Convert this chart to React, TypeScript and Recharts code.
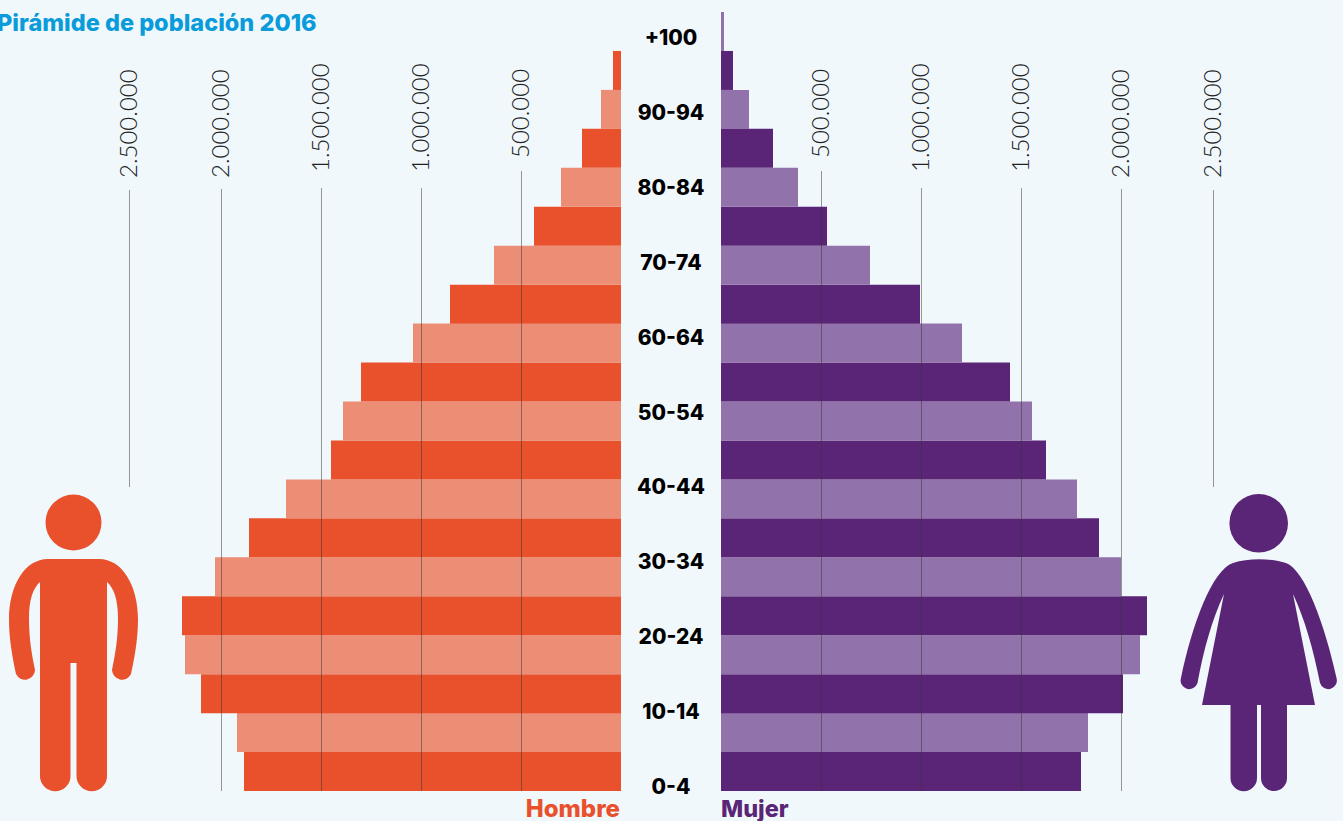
import { BarChart, Bar, Cell, XAxis, YAxis, ReferenceLine } from "recharts";

// age groups from the bottom of the pyramid up
const ageGroups = [
  "0-4", "5-9", "10-14", "15-19", "20-24", "25-29", "30-34", "35-39", "40-44", "45-49",
  "50-54", "55-59", "60-64", "65-69", "70-74", "75-79", "80-84", "85-89", "90-94", "95-99", "+100",
];

const hombres = [
  1885000, 1920000, 2100000, 2180000, 2195000, 2030000, 1860000, 1675000, 1450000, 1390000,
  1300000, 1040000, 855000, 635000, 435000, 300000, 195000, 100000, 40000, 0,
];

const mujeres = [
  1800000, 1835000, 2010000, 2095000, 2130000, 2000000, 1890000, 1780000, 1625000, 1555000,
  1445000, 1205000, 995000, 745000, 530000, 385000, 260000, 140000, 60000, 15000,
];

// the outer rule sits a little inside its nominal 2.500.000 position in the picture
const tickValues = [500000, 1000000, 1500000, 2000000, 2460000];
const tickLabels = ["500.000", "1.000.000", "1.500.000", "2.000.000", "2.500.000"];

const ORANGE = ["#e9502c", "#ec8d75"];
const PURPLE = ["#5b2577", "#9172aa"];
const BG = "#f0f8fc";
const DOMAIN_MAX = 2500000;
const HEAVY = "Inter";

const labelBottom = [158, 172, 172, 178, 178];
const ruleTop = [171, 188, 188, 189, 190];
const ruleBottom = [791, 791, 791, 791, 487];

function rows(values: number[]) {
  return values.map((value, i) => ({ age: ageGroups[i], value }));
}

function ScaleTick({ x, payload }: any) {
  const i = tickValues.indexOf(payload.value);
  const tx = x - 2;
  return (
    <text
      x={tx}
      y={labelBottom[i]}
      transform={`rotate(-90 ${tx} ${labelBottom[i]})`}
      dominantBaseline="central"
      textAnchor="start"
      fontFamily="Lato"
      fontWeight={300}
      fontSize={24}
      fill="#222"
    >
      {tickLabels[i]}
    </text>
  );
}

function ruleShape(i: number) {
  return (props: any) => {
    const x = Math.floor(props.x1) + 0.5;
    return (
      <line x1={x} x2={x} y1={ruleTop[i]} y2={ruleBottom[i]} stroke="#333" strokeOpacity={0.5} strokeWidth={1} />
    );
  };
}

function Side({ values, colors, reversed }: { values: number[]; colors: string[]; reversed: boolean }) {
  return (
    <BarChart
      width={reversed ? 621 : 622}
      height={821}
      data={rows(values)}
      layout="vertical"
      barCategoryGap={0}
      margin={reversed ? { top: 11, left: 121, right: 0, bottom: 30 } : { top: 11, left: 0, right: 122, bottom: 30 }}
    >
      <XAxis
        type="number"
        orientation="top"
        height={1}
        domain={[0, DOMAIN_MAX]}
        reversed={reversed}
        ticks={tickValues}
        interval={0}
        axisLine={false}
        tickLine={false}
        tick={ScaleTick}
      />
      <YAxis type="category" dataKey="age" reversed hide />
      <Bar dataKey="value" isAnimationActive={false}>
        {values.map((_, i) => (
          <Cell key={i} fill={colors[i % 2]} />
        ))}
      </Bar>
      {tickValues.map((v, i) => (
        <ReferenceLine key={v} x={v} shape={ruleShape(i)} />
      ))}
    </BarChart>
  );
}

function AgeTick({ y, payload }: any) {
  return (
    <text
      x={50}
      y={y}
      textAnchor="middle"
      dominantBaseline="central"
      fontFamily={HEAVY}
      fontWeight={800}
      fontSize={21}
      fill="#000"
    >
      {payload.value}
    </text>
  );
}

function AgeLabels() {
  return (
    <BarChart
      width={100}
      height={821}
      data={ageGroups.map((age) => ({ age, blank: 0 }))}
      layout="vertical"
      barCategoryGap={0}
      margin={{ top: 19, left: 0, right: 0, bottom: 16 }}
    >
      <XAxis type="number" hide domain={[0, 1]} />
      <YAxis
        type="category"
        dataKey="age"
        reversed
        width={100}
        interval={1}
        axisLine={false}
        tickLine={false}
        tick={AgeTick}
      />
      <Bar dataKey="blank" isAnimationActive={false} />
    </BarChart>
  );
}

function Figures() {
  return (
    <svg width={1343} height={821} style={{ position: "absolute", left: 0, top: 0, pointerEvents: "none" }}>
      <g fill={ORANGE[0]}>
        <circle cx={73.5} cy={522.5} r={28} />
        <path d="M48 559 H99 C122 559 138 585 138 620 C138 640 134 660 131 674 A10 10 0 0 1 112 670 C115 655 118 640 118 618 C118 600 114 588 107 582 V776 A15.25 15.25 0 0 1 76.5 776 V663 H70.5 V776 A15.25 15.25 0 0 1 40 776 V582 C33 588 29 600 29 618 C29 640 32 655 35 670 A10 10 0 0 1 16 674 C13 660 9 640 9 620 C9 585 25 559 48 559 Z" />
      </g>
      <g fill={PURPLE[0]}>
        <circle cx={1258.7} cy={523.3} r={29.3} />
        <path d="M1233 563 C1248 558 1270 558 1286 563 C1305 570 1325 625 1336.5 678 A8.5 8.5 0 0 1 1320 683 C1313 648 1305 620 1293 594 L1315 705 H1287 V778 A13 13 0 0 1 1261 778 V705 H1257 V778 A13.25 13.25 0 0 1 1230.5 778 V705 H1202 L1224 594 C1212 620 1204 648 1197.5 683 A8.5 8.5 0 0 1 1181 678 C1192 625 1212 570 1233 563 Z" />
      </g>
    </svg>
  );
}

const caption: React.CSSProperties = {
  position: "absolute",
  fontFamily: HEAVY,
  fontWeight: 800,
  whiteSpace: "nowrap",
  lineHeight: 1,
};

export default function App() {
  return (
    <div style={{ position: "fixed", left: 0, top: 0, width: 1343, height: 821, background: BG, overflow: "hidden" }}>
      <div style={{ position: "absolute", left: 0, top: 0 }}>
        <Side values={hombres} colors={ORANGE} reversed />
      </div>
      <div style={{ position: "absolute", left: 621, top: 0 }}>
        <AgeLabels />
      </div>
      <div style={{ position: "absolute", left: 721, top: 0 }}>
        <Side values={mujeres} colors={PURPLE} reversed={false} />
      </div>
      <Figures />
      <div style={{ ...caption, left: -3, top: 11, fontSize: 23.5, color: "#0a9bdb" }}>Pirámide de población 2016</div>
      <div style={{ ...caption, right: 723, top: 797, fontSize: 24, color: ORANGE[0] }}>Hombre</div>
      <div style={{ ...caption, left: 721, top: 797, fontSize: 23.5, color: PURPLE[0] }}>Mujer</div>
    </div>
  );
}
